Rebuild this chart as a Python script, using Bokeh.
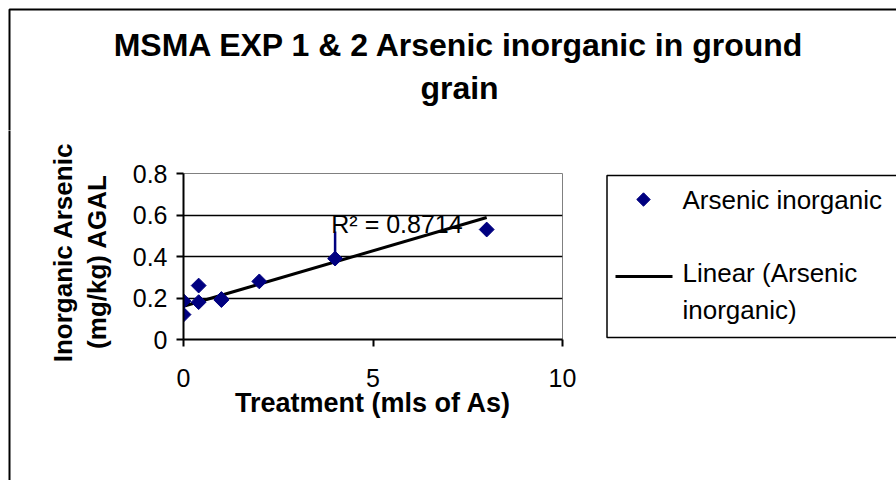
import numpy as np
from bokeh.plotting import figure
from bokeh.layouts import column, row
from bokeh.models import Range1d, FixedTicker, BoxAnnotation
from bokeh.core.properties import value
from bokeh.embed import file_html
from bokeh.resources import INLINE

FONT = "Liberation Sans"

# ---------------- data ----------------
title_lines = ["MSMA EXP 1 & 2 Arsenic inorganic in ground", "grain"]
x_label = "Treatment (mls of As)"
y_label_lines = ["Inorganic Arsenic", "(mg/kg) AGAL"]
series_name = "Arsenic inorganic"
trend_name_lines = ["Linear (Arsenic", "inorganic)"]
r2_text = "R\u00b2 = 0.8714"

treatment = [0, 0, 0.4, 0.4, 1, 1, 2, 4, 8]
arsenic = [0.185, 0.12, 0.26, 0.18, 0.195, 0.19, 0.28, 0.39, 0.53]

err_x = [4]
err_low = [0.39]
err_high = [0.52]

trend_x = [0, 8]
trend_y = [0.16, 0.588]

r2_x = [3.9]
r2_y = [0.555]

x_ticks = [0, 5, 10]
x_tick_labels = ["0", "5", "10"]
y_ticks = [0, 0.2, 0.4, 0.6, 0.8]
y_tick_labels = ["0", "0.2", "0.4", "0.6", "0.8"]

# ---------------- layout (canvas pixels) ----------------
W, H = 896, 480
TOP_H = 130          # title strip height
LEFT_W = 115         # y-label strip width
LEG_X = 600          # legend strip starts here
PX0, PX10 = 183, 562  # plot area x extent
PYT, PY0 = 173, 339   # plot area y extent
NAVY = "#000080"


def blank(width, height, x0, y0):
    """Figure whose frame fills the canvas; data x = canvas x, data y = -canvas y."""
    f = figure(width=width, height=height, output_backend="svg", toolbar_location=None,
               x_range=Range1d(x0, x0 + width), y_range=Range1d(-(y0 + height), -y0),
               x_axis_type=None, y_axis_type=None, title=None,
               min_border=0, min_border_left=0, min_border_right=0,
               min_border_top=0, min_border_bottom=0)
    f.grid.visible = False
    f.outline_line_color = None
    f.background_fill_color = "white"
    f.border_fill_color = "white"
    return f


# ---- title strip ----
t = blank(W, TOP_H, 0, 0)
t.add_layout(BoxAnnotation(left=9, right=5000, top=-9, bottom=-5000, fill_alpha=0,
                           line_color="black", line_alpha=1, line_width=2))
t.text(x=[459, 459], y=[-44, -87], text=title_lines, text_font=value(FONT),
       text_font_size=value("32px"), text_font_style="bold",
       text_align="center", text_baseline="middle", text_color="black")

# ---- y-label strip ----
yl = blank(LEFT_W, H - TOP_H, 0, TOP_H)
yl.add_layout(BoxAnnotation(left=9, right=5000, top=5000, bottom=-5000, fill_alpha=0,
                            line_color="black", line_alpha=1, line_width=2))
yl.text(x=[62, 96], y=[-252, -261], text=y_label_lines, angle=np.pi / 2,
        text_font=value(FONT), text_font_size=value("26px"), text_font_style="bold",
        text_align="center", text_baseline="middle", text_color="black")

# ---- main chart ----
mw = LEG_X - LEFT_W
mh = H - TOP_H
p = figure(width=mw, height=mh, output_backend="svg", toolbar_location=None,
           x_range=Range1d(0, 10), y_range=Range1d(0, 0.8), title=None,
           min_border_left=PX0 - LEFT_W, min_border_right=LEG_X - PX10,
           min_border_top=PYT - TOP_H, min_border_bottom=H - PY0)
p.background_fill_color = "white"
p.border_fill_color = "white"
p.outline_line_color = "#808080"
p.outline_line_width = 1

for ax, ticks, labels in ((p.xaxis, x_ticks, x_tick_labels), (p.yaxis, y_ticks, y_tick_labels)):
    ax.ticker = FixedTicker(ticks=ticks)
    ax.major_label_overrides = dict(zip(ticks, labels))
    ax.major_label_text_font = FONT
    ax.major_label_text_font_size = "25px"
    ax.major_label_text_color = "black"
    ax.axis_line_color = "black"
    ax.axis_line_width = 2
    ax.major_tick_line_color = "black"
    ax.major_tick_line_width = 2
    ax.major_tick_out = 7
    ax.major_tick_in = 0
    ax.minor_tick_line_color = None
p.yaxis.major_label_standoff = 9
p.xaxis.major_label_standoff = 22
p.xaxis.axis_label = x_label
p.xaxis.axis_label_text_font = FONT
p.xaxis.axis_label_text_font_size = "27px"
p.xaxis.axis_label_text_font_style = "bold"
p.xaxis.axis_label_text_color = "black"
p.xaxis.axis_label_standoff = -2

p.xgrid.grid_line_color = None
p.ygrid.ticker = FixedTicker(ticks=y_ticks)
p.ygrid.grid_line_color = "black"
p.ygrid.grid_line_width = 1.5

p.line(trend_x, trend_y, line_color="black", line_width=3)
p.segment(x0=err_x, y0=err_low, x1=err_x, y1=err_high, line_color=NAVY, line_width=2.5)
p.scatter(treatment, arsenic, marker="square", angle=np.pi / 4, size=10.5,
          fill_color=NAVY, line_color=NAVY)
p.text(x=r2_x, y=r2_y, text=[r2_text], text_font=value(FONT), text_font_size=value("25px"),
       text_align="left", text_baseline="alphabetic", text_color="black")

# ---- legend strip ----
lg = blank(W - LEG_X, H - TOP_H, LEG_X, TOP_H)
lg.quad(left=[606.5], right=[2000], top=[-175], bottom=[-337],
        fill_color="white", line_color="black", line_width=1.5)
lg.scatter(x=[643], y=[-199], marker="square", angle=np.pi / 4, size=9.5,
           fill_color=NAVY, line_color=NAVY)
lg.segment(x0=[615], y0=[-276], x1=[672], y1=[-276], line_color="black", line_width=3)
lg.text(x=[682, 682, 682], y=[-199, -272, -309],
        text=[series_name, trend_name_lines[0], trend_name_lines[1]],
        text_font=value(FONT), text_font_size=value("26px"),
        text_align="left", text_baseline="middle", text_color="black")

layout = column(t, row(column(yl), column(p), column(lg)))

open("out.html", "w").write(file_html(layout, INLINE))
